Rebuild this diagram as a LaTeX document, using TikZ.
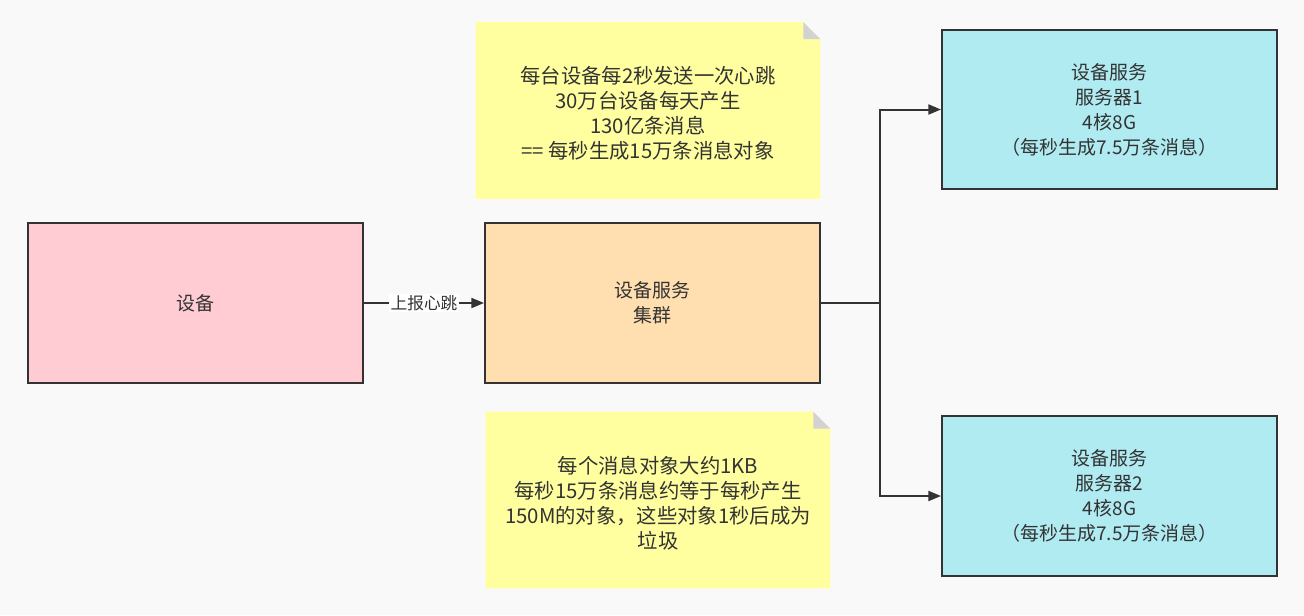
\documentclass[tikz,border=0pt]{standalone}
\usepackage{fontspec}
\setmainfont{Noto Sans CJK SC}
\usetikzlibrary{arrows.meta}
\definecolor{bgc}{HTML}{F9F9F9}
\definecolor{linec}{HTML}{333333}
\definecolor{txtc}{HTML}{333333}
\definecolor{pinkc}{HTML}{FFCCD3}
\definecolor{peachc}{HTML}{FFDFB0}
\definecolor{cyanc}{HTML}{B0EBF2}
\definecolor{notec}{HTML}{FFFFA0}
\definecolor{foldc}{HTML}{D2D2D2}
\tikzset{
  boxnode/.style={draw=linec, line width=1.5pt, minimum width=251.25pt, minimum height=120pt,
    align=center, text=txtc, inner sep=0pt, font=\fontsize{14.25}{18.75}\selectfont},
  notetext/.style={align=center, text=txtc, inner sep=0pt, font=\fontsize{15.25}{18.75}\selectfont},
  notearea/.style={minimum width=258pt, minimum height=132pt, inner sep=0pt},
  conn/.style={draw=linec, line width=1.5pt},
  arr/.style={conn, -{Triangle[length=9.5pt,width=7.5pt]}},
  lbl/.style={fill=white, text=txtc, inner sep=1pt, font=\fontsize{12.5}{15}\selectfont}
}
\newcommand{\notefold}[1]{%
  \fill[notec] (#1.south west) -- (#1.north west) -- ([xshift=-12.75pt]#1.north east)
     -- ([yshift=-12.75pt]#1.north east) -- (#1.south east) -- cycle;
  \fill[foldc] ([xshift=-12.75pt]#1.north east) -- ([xshift=-12.75pt,yshift=-12.75pt]#1.north east)
     -- ([yshift=-12.75pt]#1.north east) -- cycle;
}
\begin{document}
\begin{tikzpicture}[x=0.75pt,y=-0.75pt]
\fill[bgc] (0,0) rectangle (1304,615);
\useasboundingbox (0,0) rectangle (1304,615);

% notes
\node[notearea] (n1) at (648,110.5) {};
\notefold{n1}
\node[notetext] (n1t) at (648,113.5) {每台设备每2秒发送一次心跳\\30万台设备每天产生\\130亿条消息\\== 每秒生成15万条消息对象};

\node[notearea] (n2) at (658,500) {};
\notefold{n2}
\node[notetext] (n2t) at (658,503.5) {每个消息对象大约1KB\\每秒15万条消息约等于每秒产生\\150M的对象，这些对象1秒后成为\\垃圾};

% boxes
\node[boxnode, fill=pinkc] (dev) at (195.5,303) {设备};
\node[boxnode, fill=peachc] (cl) at (652.5,303) {设备服务\\集群};
\node[boxnode, fill=cyanc, minimum height=119.25pt] (s1) at (1109.5,109.5) {设备服务\\服务器1\\4核8G\\（每秒生成7.5万条消息）};
\node[boxnode, fill=cyanc] (s2) at (1109.5,496) {设备服务\\服务器2\\4核8G\\（每秒生成7.5万条消息）};

% connectors
\draw[arr] (dev.east) -- node[lbl] (l1) {上报心跳} (cl.west);
\coordinate (j) at (880,303);
\draw[conn] (cl.east) -- (j);
\draw[arr] (j) |- (s1.west);
\draw[arr] (j) |- (s2.west);
\end{tikzpicture}
\end{document}
